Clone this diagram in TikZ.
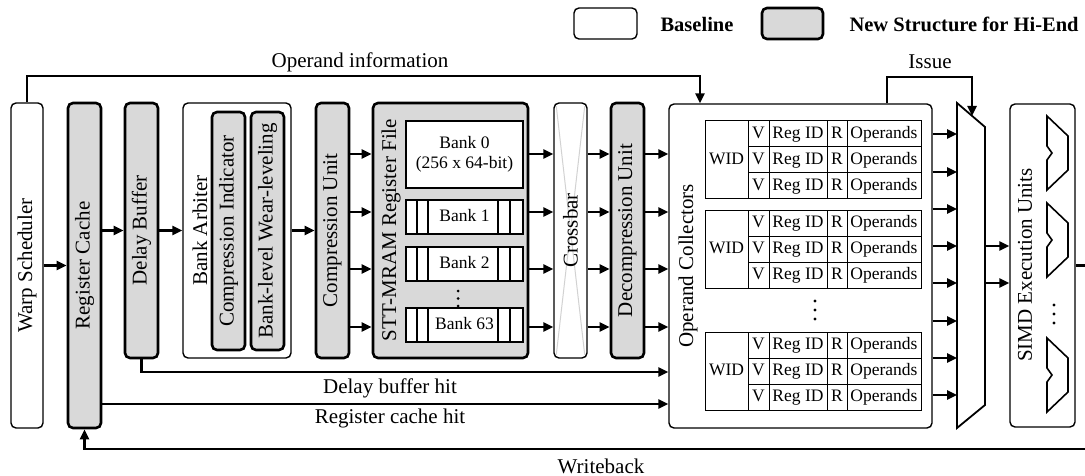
\documentclass[tikz,border=0pt]{standalone}
\usepackage{fontspec}
\setmainfont{Liberation Serif}
\usetikzlibrary{arrows.meta}

\tikzset{
  base/.style={draw, line width=1.4pt, rounded corners=5pt, fill=white, inner sep=0pt},
  newst/.style={draw, line width=2.6pt, rounded corners=5pt, fill=gray!30, inner sep=0pt},
  bank/.style={draw, line width=1.8pt, fill=white, inner sep=0pt},
  cell/.style={font=\fontsize{17.5}{20}\selectfont, inner sep=0pt, text height=12pt, text depth=3.5pt},
  legtext/.style={font=\fontsize{20.5}{24}\selectfont\bfseries},
  arr/.style={line width=2.4pt, -{Triangle[length=10pt,width=9pt]}},
}

\begin{document}
\begin{tikzpicture}[x=1pt, y=-1pt, font=\fontsize{21}{25}\selectfont]
\useasboundingbox (0,0) rectangle (1085,476);

% legend
\node[base, minimum width=63, minimum height=31] (lgbase) at (605.5,23.5) {};
\node[legtext] (lgbaset) at (697,24) {Baseline};
\node[newst, minimum width=61, minimum height=31] (lgnew) at (792.5,23.5) {};
\node[legtext, anchor=west] (lgnewt) at (846,24) {New Structure for Hi-End};

% front end
\node[base, minimum width=32, minimum height=325] (ws) at (27,265.5) {\rotatebox{90}{Warp Scheduler}};
\node[newst, minimum width=33, minimum height=325] (rc) at (84.5,265.5) {\rotatebox{90}{Register Cache}};
\node[newst, minimum width=33, minimum height=255] (db) at (141.5,230.5) {\rotatebox{90}{Delay Buffer}};
\node[base, minimum width=108, minimum height=255] (ba) at (237,230.5) {};
\node (bat) at (200,230.5) {\rotatebox{90}{Bank Arbiter}};
\node[newst, minimum width=33, minimum height=238] (ci) at (228.5,231) {\rotatebox{90}{Compression Indicator}};
\node[newst, minimum width=33, minimum height=238] (bw) at (267.5,231) {\rotatebox{90}{Bank-level Wear-leveling}};
\node[newst, minimum width=33, minimum height=255] (cu) at (332.5,230.5) {\rotatebox{90}{Compression Unit}};

% register file
\node[newst, minimum width=155, minimum height=255] (stt) at (450.5,230.5) {};
\node (sttt) at (391,230) {\rotatebox{90}{STT-MRAM Register File}};
\node[bank, cell, minimum width=117, minimum height=67, align=center, text height=, text depth=] (bk0) at (464.5,154.5) {Bank 0\\(256 x 64-bit)};
\foreach \n/\y in {1/217, 2/264, 63/325}
{
    \node[bank, cell, minimum width=117, minimum height=34] (bk\n) at (464.5,\y) {Bank \n};
    \foreach \sx in {417, 428, 498, 510}
    {
        \draw[line width=1.8pt] (\sx,\y-17) -- (\sx,\y+17);
    }
}
\foreach \dy in {291, 298.5, 306}
{
    \fill (458,\dy) circle (1.5);
}

% crossbar
\node[base, minimum width=33, minimum height=255] (xb) at (570.5,230.5) {};
\draw[gray!35, line width=1pt] ([shift={(3,4)}]xb.north west) -- ([shift={(-3,-4)}]xb.south east);
\draw[gray!35, line width=1pt] ([shift={(-3,4)}]xb.north east) -- ([shift={(3,-4)}]xb.south west);
\node (xbt) at (xb) {\rotatebox{90}{Crossbar}};
\node[newst, minimum width=33, minimum height=255] (dc) at (627.5,230.5) {\rotatebox{90}{Decompression Unit}};

% operand collectors
\node[base, minimum width=263, minimum height=324] (oc) at (800.5,266) {};
\node (oct) at (688,266) {\rotatebox{90}{Operand Collectors}};
\foreach \t/\ty in {1/121, 2/210, 3/332}
{
    \draw[line width=1pt] (705,\ty) rectangle (921,\ty+78);
    \foreach \cx in {748, 769, 827, 847}
    {
        \draw[line width=1pt] (\cx,\ty) -- (\cx,\ty+78);
    }
    \draw[line width=1pt] (748,\ty+26) -- (921,\ty+26);
    \draw[line width=1pt] (748,\ty+52) -- (921,\ty+52);
    \node[cell] (wid\t) at (726.5,\ty+39) {WID};
    \foreach \r in {0,1,2}
    {
        \node[cell] (v\t\r) at (758.5,\ty+13+26*\r) {V};
        \node[cell] (id\t\r) at (798,\ty+13+26*\r) {Reg ID};
        \node[cell] (r\t\r) at (837,\ty+13+26*\r) {R};
        \node[cell] (op\t\r) at (884,\ty+13+26*\r) {Operands};
    }
}
\foreach \dy in {301, 310, 319}
{
    \fill (815,\dy) circle (1.7);
}

% issue mux
\draw[line width=1.8pt, fill=white] (957,103) -- (985,127) -- (985,405) -- (957,428) -- cycle;
\coordinate (muxin) at (957,265);
\coordinate (muxout) at (985,265);
\coordinate (muxtop) at (972,116);

% SIMD units
\node[base, minimum width=65, minimum height=323] (simd) at (1042.5,265.5) {};
\node (simdt) at (1025,265) {\rotatebox{90}{SIMD Execution Units}};
\foreach \ay in {116, 203, 338}
{
    \draw[line width=1.6pt] (1047,\ay) -- (1068,\ay+20) -- (1068,\ay+54) -- (1047,\ay+74) -- (1047,\ay+44) -- (1052,\ay+37) -- (1047,\ay+30) -- cycle;
}
\foreach \dy in {305, 314, 323}
{
    \fill (1054,\dy) circle (1.6);
}

% datapath arrows
\draw[arr] (ws) -- (rc);
\draw[arr] (rc.east |- db.west) -- (db.west);
\draw[arr] (db) -- (ba);
\draw[arr] (ba) -- (cu);
\foreach \y in {154, 212, 269, 327}
{
    \draw[arr] (cu.east |- 0,\y) -- (stt.west |- 0,\y);
    \draw[arr] (stt.east |- 0,\y) -- (xb.west |- 0,\y);
    \draw[arr] (xb.east |- 0,\y) -- (dc.west |- 0,\y);
    \draw[arr] (dc.east |- 0,\y) -- (oc.west |- 0,\y);
}
\foreach \y in {134, 172, 209, 246, 283, 321, 358, 395}
{
    \draw[arr] (oc.east |- 0,\y) -- (muxin |- 0,\y);
}
\foreach \y in {246, 283}
{
    \draw[arr] (muxout |- 0,\y) -- (simd.west |- 0,\y);
}

% side paths
\coordinate (opinf) at (700,76);
\draw[arr] (ws.north) |- (opinf) -- (opinf |- oc.north);
\node (opinft) at (360,62) {Operand information};

\coordinate (issue) at (887,77);
\draw[arr] (oc.north -| issue) |- (muxtop |- issue) -- (muxtop);
\node (issuet) at (930,62) {Issue};

\coordinate (dbhit) at (0,372);
\draw[arr] (db.south) |- (oc.west |- dbhit);
\node (dbhitt) at (390,388) {Delay buffer hit};

\coordinate (rchit) at (0,404);
\draw[arr] (rc.east |- rchit) -- (oc.west |- rchit);
\node (rchitt) at (390,418) {Register cache hit};

\coordinate (wbr) at (1092,449);
\draw[arr] (simd.east) -| (wbr) -| (rc.south);
\node (wbt) at (601,466) {Writeback};
\end{tikzpicture}
\end{document}
